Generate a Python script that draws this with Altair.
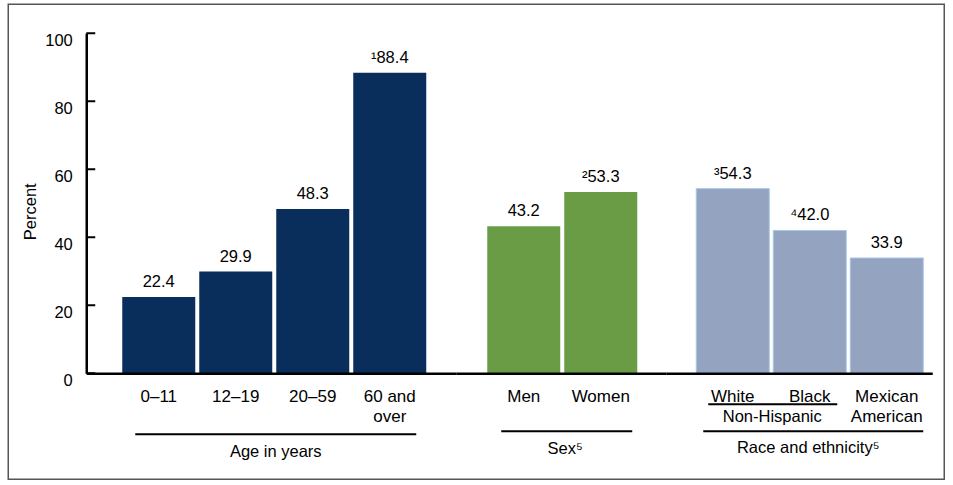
import altair as alt
import pandas as pd

FONT = "Liberation Sans"

# ---- data ----
age_cats = ["0–11", "12–19", "20–59", "60 and over"]
age_vals = [22.4, 29.9, 48.3, 88.4]
age_text = ["22.4", "29.9", "48.3", "¹88.4"]

sex_cats = ["Men", "Women"]
sex_vals = [43.2, 53.3]
sex_text = ["43.2", "²53.3"]

race_cats = ["White", "Black", "Mexican American"]
race_vals = [54.3, 42.0, 33.9]
race_text = ["³54.3", "⁴42.0", "33.9"]

y_ticks = [0, 20, 40, 60, 80, 100]
group_titles = ["Age in years", "Sex⁵", "Race and ethnicity⁵"]
subgroup_title = ["Non-Hispanic"]

NAVY = "#0a2e5c"
GREEN = "#6a9c45"
GRAYBLUE = "#93a3c0"

H = 340
YSCALE = alt.Scale(domain=[0, 100], nice=False, zero=True)


def band(n, L, R, step=77, bw=73):
    W = L + R + n * step - (step - bw)
    pi = (step - bw) / step
    po = (W / step - (n - pi)) / 2
    return W, alt.Scale(paddingInner=pi, paddingOuter=po, align=L / (L + R))


def xaxis(label_expr=None):
    kw = dict(title=None, ticks=False, tickSize=0, labelAngle=0, labelPadding=15,
              labelFontSize=17, labelFont=FONT, labelColor="black", labelLineHeight=20,
              domainColor="black", domainWidth=2.5, labelLimit=300, zindex=1,
              labelOverlap=False)
    if label_expr:
        kw["labelExpr"] = label_expr
    return alt.Axis(**kw)


yaxis = alt.Axis(title="Percent", values=y_ticks, ticks=False, tickSize=0, grid=False,
                 labelFontSize=16.5, labelFont=FONT, labelColor="black", labelPadding=14,
                 labelOffset=7, domainColor="black", domainWidth=2.5,
                 titleFont=FONT, titleFontSize=16.5, titleFontWeight="normal",
                 titleColor="black", titleX=-56, titleY=178, titleAngle=-90,
                 titleAlign="center", titleBaseline="middle", zindex=1)


def panel(cats, vals, texts, color, L, R, label_expr, ytitle_axis, extras, stroke=None):
    W, sc = band(len(cats), L, R)
    df = pd.DataFrame({"cat": cats, "val": vals, "txt": texts})
    x = alt.X("cat:N", sort=cats, scale=sc, axis=xaxis(label_expr))
    y = alt.Y("val:Q", scale=YSCALE, axis=ytitle_axis)
    mk = dict(color=color)
    if stroke:
        mk.update(stroke=stroke, strokeWidth=1)
    bars = alt.Chart(df).mark_bar(**mk).encode(x=x, y=y)
    txt = alt.Chart(df).mark_text(font=FONT, fontSize=16.5, color="black",
                                  baseline="alphabetic", dy=-10).encode(
        x=alt.X("cat:N", sort=cats, scale=sc), y=alt.Y("val:Q", scale=YSCALE), text="txt:N")
    return alt.layer(bars, txt, *extras).properties(width=W, height=H)


def group_line(x1, x2, y):
    return alt.Chart(alt.Data(values=[{"k": 1}])).mark_rule(
        color="black", strokeWidth=2).encode(
        x=alt.value(x1), x2=alt.value(x2), y=alt.value(y))


def group_text(label, x, y):
    return alt.Chart(alt.Data(values=[{"t": label}])).mark_text(
        font=FONT, fontSize=16.5, color="black", align="center",
        baseline="alphabetic").encode(x=alt.value(x), y=alt.value(y), text="t:N")


# y ticks drawn inward
tick_df = pd.DataFrame({"val": y_ticks})
yticks = alt.Chart(tick_df).mark_rule(color="black", strokeWidth=2).encode(
    y=alt.Y("val:Q", scale=YSCALE), x=alt.value(0), x2=alt.value(9))

# outer frame
frame = alt.Chart(alt.Data(values=[{"k": 1}])).mark_rect(
    fillOpacity=0, stroke="#555555", strokeWidth=1.5).encode(
    x=alt.value(-78), x2=alt.value(858), y=alt.value(-29), y2=alt.value(446))

p1 = panel(age_cats, age_vals, age_text, NAVY, 36, 30,
           "datum.value == '60 and over' ? ['60 and', 'over'] : datum.value",
           yaxis,
           [yticks, frame, group_line(49, 330, 401),
            group_text(group_titles[0], 189.5, 424)])

p2 = panel(sex_cats, sex_vals, sex_text, GREEN, 31, 29, None, None,
           [group_line(45, 176, 398), group_text(group_titles[1], 109, 420.5)])

p3 = panel(race_cats, race_vals, race_text, GRAYBLUE, 30, 9,
           "datum.value == 'Mexican American' ? ['Mexican', 'American'] : datum.value",
           None,
           [group_line(42, 171, 371), group_text(subgroup_title[0], 106, 389),
            group_line(37, 257, 398), group_text(group_titles[2], 142, 419.5)],
           stroke="#a9c6e2")

chart = alt.hconcat(p1, p2, p3, spacing=0, bounds="flush").resolve_scale(
    x="independent").configure_view(stroke=None).properties(
    padding={"left": 7.25, "top": 3.25, "right": 0, "bottom": 0},
    background="white")

chart.save("out.html", embed_options={"renderer": "svg", "actions": False})
